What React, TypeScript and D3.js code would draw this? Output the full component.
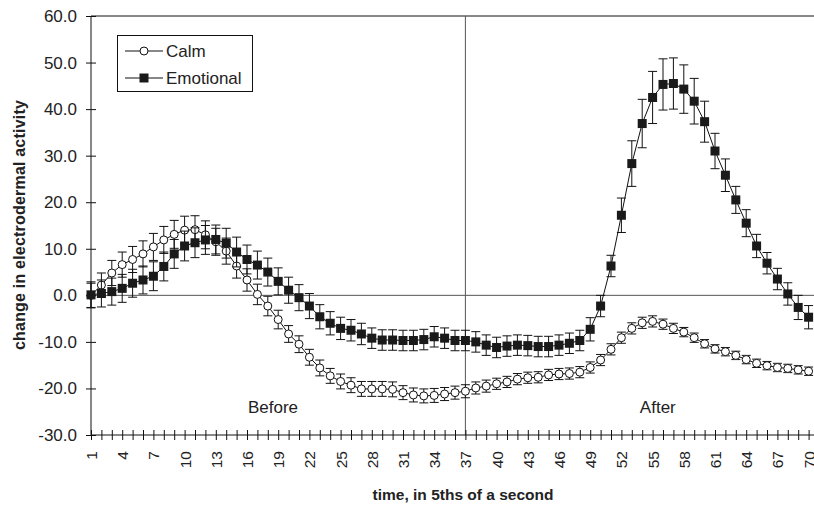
import React, { useEffect, useRef } from 'react';
import * as d3 from 'd3';

// time points, in 5ths of a second
const categories = d3.range(1, 71);
const xTickLabels = [1, 4, 7, 10, 13, 16, 19, 22, 25, 28, 31, 34, 37, 40, 43, 46, 49, 52, 55, 58, 61, 64, 67, 70];
const yTicks = [-30, -20, -10, 0, 10, 20, 30, 40, 50, 60];

const calm = [
  0.0, 2.2, 4.8, 6.6, 7.7, 8.9, 10.4, 11.9, 13.1, 14.0,
  14.1, 13.0, 11.5, 9.5, 6.3, 3.3, 0.2, -2.3, -5.2, -8.3,
  -10.5, -13.3, -15.6, -17.3, -18.5, -19.3, -20.1, -20.1, -20.1, -20.2,
  -20.9, -21.4, -21.6, -21.5, -21.2, -20.9, -20.6, -19.9, -19.5, -19.0,
  -18.6, -18.0, -17.7, -17.6, -17.1, -16.9, -16.8, -16.5, -15.5, -13.9,
  -11.6, -9.1, -7.1, -5.9, -5.6, -6.2, -7.1, -7.9, -9.1, -10.4,
  -11.5, -12.1, -12.9, -13.8, -14.6, -15.1, -15.5, -15.7, -16.0, -16.3,
];
const calmErr = [
  2.6, 2.6, 2.7, 2.7, 2.8, 2.8, 2.9, 2.9, 3.0, 3.0,
  3.0, 3.0, 2.9, 2.8, 2.6, 2.4, 2.2, 2.1, 2.0, 1.8,
  1.8, 1.7, 1.7, 1.6, 1.6, 1.6, 1.6, 1.6, 1.6, 1.6,
  1.5, 1.5, 1.5, 1.5, 1.4, 1.4, 1.4, 1.3, 1.3, 1.2,
  1.2, 1.2, 1.2, 1.2, 1.2, 1.2, 1.2, 1.2, 1.2, 1.2,
  1.2, 1.2, 1.2, 1.2, 1.2, 1.1, 1.1, 1.0, 1.0, 0.9,
  0.9, 0.9, 0.9, 0.9, 0.9, 0.9, 0.9, 0.9, 0.9, 0.9,
];

const emotional = [
  0.1, 0.4, 0.8, 1.5, 2.6, 3.3, 4.1, 6.2, 8.9, 10.6,
  11.3, 11.9, 12.0, 11.2, 9.3, 7.7, 6.5, 5.0, 3.0, 1.1,
  -0.5, -2.3, -4.6, -6.0, -7.1, -7.5, -8.3, -9.2, -9.6, -9.6,
  -9.7, -9.7, -9.5, -8.9, -9.2, -9.7, -9.7, -10.0, -10.7, -11.2,
  -10.9, -10.7, -10.8, -11.0, -11.0, -10.7, -10.3, -9.7, -7.3, -2.3,
  6.3, 17.2, 28.3, 36.9, 42.5, 45.3, 45.5, 44.3, 41.7, 37.3,
  31.0, 25.8, 20.5, 15.5, 10.6, 6.9, 3.5, 0.3, -2.6, -4.7,
];
const emotionalErr = [
  2.8, 2.9, 2.9, 3.0, 3.0, 3.0, 3.1, 3.1, 3.1, 3.2,
  3.2, 3.1, 3.1, 3.2, 3.2, 3.1, 3.0, 3.0, 2.9, 2.8,
  2.8, 2.7, 2.6, 2.5, 2.4, 2.3, 2.3, 2.2, 2.2, 2.2,
  2.2, 2.2, 2.2, 2.2, 2.2, 2.2, 2.2, 2.2, 2.2, 2.2,
  2.2, 2.2, 2.2, 2.2, 2.2, 2.2, 2.2, 2.2, 2.5, 2.3,
  2.3, 3.7, 4.9, 5.2, 5.6, 5.5, 5.5, 5.2, 4.9, 4.4,
  3.8, 3.5, 2.9, 2.9, 2.5, 2.3, 2.3, 2.4, 2.6, 2.5,
];

const seriesNames = ['Calm', 'Emotional'];
const phaseLabels = [{ label: 'Before', at: 18.5 }, { label: 'After', at: 55.5 }];
const splitAt = 37;

const FONT = '"Liberation Sans", Arial, sans-serif';

const App = () => {
  const svgRef = useRef<SVGSVGElement>(null);

  useEffect(() => {
    const width = 814;
    const height = 506;
    const left = 91, right = 814, top = 16, bottom = 435;

    d3.select(svgRef.current).selectAll('*').remove();
    const svg = d3.select(svgRef.current)
      .attr('width', width)
      .attr('height', height)
      .style('font-family', FONT);

    const x = d3.scaleLinear().domain([1, 70]).range([left, 808.6]);
    const y = d3.scaleLinear().domain([-30, 60]).range([bottom, top]);

    // frame
    svg.append('line')
      .attr('x1', left).attr('x2', right).attr('y1', top).attr('y2', top)
      .attr('stroke', '#111');

    // zero line and before/after divider
    svg.append('line')
      .attr('x1', left).attr('x2', right).attr('y1', y(0)).attr('y2', y(0))
      .attr('stroke', '#555');
    svg.append('line')
      .attr('x1', x(splitAt)).attr('x2', x(splitAt)).attr('y1', top).attr('y2', bottom)
      .attr('stroke', '#555');

    // y axis
    const yAxis = svg.append('g')
      .attr('transform', `translate(${left},0)`)
      .call(d3.axisLeft(y).tickValues(yTicks).tickFormat(d => (d as number).toFixed(1)).tickSize(5).tickPadding(10));
    yAxis.select('.domain').attr('stroke', '#111').attr('d', `M0,${top}V${bottom}`);
    yAxis.selectAll('.tick line').attr('x1', 5).attr('x2', -5).attr('stroke', '#111');
    yAxis.selectAll('.tick text')
      .attr('x', -14)
      .style('font-size', '17px')
      .style('font-family', FONT)
      .attr('fill', '#222');

    // x axis
    const xAxis = svg.append('g')
      .attr('transform', `translate(0,${bottom})`)
      .call(d3.axisBottom(x).tickValues(categories)
        .tickFormat(d => (xTickLabels.includes(d as number) ? String(d) : ''))
        .tickSize(5));
    xAxis.select('.domain').attr('stroke', '#111').attr('d', `M${left},0H${right}`);
    xAxis.selectAll('.tick line').attr('y1', -5).attr('y2', 5).attr('stroke', '#111');
    xAxis.selectAll('.tick text')
      .attr('transform', 'rotate(-90)')
      .attr('text-anchor', 'end')
      .attr('x', -16)
      .attr('y', 0)
      .attr('dy', '0.35em')
      .style('font-size', '15.5px')
      .style('font-family', FONT)
      .attr('fill', '#222');

    // phase labels
    svg.selectAll('.phase')
      .data(phaseLabels)
      .enter().append('text')
      .attr('x', d => x(d.at))
      .attr('y', 413)
      .attr('text-anchor', 'middle')
      .style('font-size', '17px')
      .attr('fill', '#222')
      .text(d => d.label);

    // axis titles
    svg.append('text')
      .attr('transform', 'rotate(-90)')
      .attr('x', -225)
      .attr('y', 25)
      .attr('text-anchor', 'middle')
      .style('font-size', '16px')
      .style('font-weight', 'bold')
      .style('letter-spacing', '0.2px')
      .attr('fill', '#222')
      .text('change in electrodermal activity');

    svg.append('text')
      .attr('x', 463)
      .attr('y', 500)
      .attr('text-anchor', 'middle')
      .style('font-size', '15.5px')
      .style('font-weight', 'bold')
      .attr('fill', '#222')
      .text('time, in 5ths of a second');

    const line = d3.line<number>().x((_, i) => x(categories[i])).y(d => y(d));

    const drawErr = (vals: number[], errs: number[]) => {
      const g = svg.append('g').attr('stroke', '#111').attr('stroke-width', 1);
      vals.forEach((v, i) => {
        const cx = x(categories[i]);
        const y1 = y(v - errs[i]);
        const y2 = y(v + errs[i]);
        g.append('line').attr('x1', cx).attr('x2', cx).attr('y1', y1).attr('y2', y2);
        g.append('line').attr('x1', cx - 4.5).attr('x2', cx + 4.5).attr('y1', y1).attr('y2', y1);
        g.append('line').attr('x1', cx - 4.5).attr('x2', cx + 4.5).attr('y1', y2).attr('y2', y2);
      });
    };

    // Calm
    drawErr(calm, calmErr);
    svg.append('path').datum(calm)
      .attr('d', line).attr('fill', 'none').attr('stroke', '#111').attr('stroke-width', 1);
    svg.selectAll('.calm')
      .data(calm)
      .enter().append('circle')
      .attr('cx', (_, i) => x(categories[i]))
      .attr('cy', d => y(d))
      .attr('r', 4)
      .attr('fill', '#fff')
      .attr('stroke', '#111');

    // Emotional
    drawErr(emotional, emotionalErr);
    svg.append('path').datum(emotional)
      .attr('d', line).attr('fill', 'none').attr('stroke', '#111').attr('stroke-width', 1);
    svg.selectAll('.emo')
      .data(emotional)
      .enter().append('rect')
      .attr('x', (_, i) => x(categories[i]) - 4.5)
      .attr('y', d => y(d) - 4.5)
      .attr('width', 9)
      .attr('height', 9)
      .attr('fill', '#1a1a1a');

    // legend
    const legend = svg.append('g');
    legend.append('rect')
      .attr('x', 117.5).attr('y', 35.5).attr('width', 135).attr('height', 56)
      .attr('fill', '#fff').attr('stroke', '#111');
    seriesNames.forEach((name, i) => {
      const ly = 51 + i * 27;
      legend.append('line')
        .attr('x1', 125).attr('x2', 163).attr('y1', ly).attr('y2', ly)
        .attr('stroke', '#111');
      if (i === 0) {
        legend.append('circle').attr('cx', 144).attr('cy', ly).attr('r', 4)
          .attr('fill', '#fff').attr('stroke', '#111');
      } else {
        legend.append('rect').attr('x', 139.5).attr('y', ly - 4.5).attr('width', 9).attr('height', 9)
          .attr('fill', '#1a1a1a');
      }
      legend.append('text')
        .attr('x', 166)
        .attr('y', ly + 6)
        .style('font-size', '17px')
        .attr('fill', '#222')
        .text(name);
    });
  }, []);

  return (
    <svg ref={svgRef} style={{ position: 'absolute', left: 0, top: 0, background: '#fff' }}></svg>
  );
};

export default App;
